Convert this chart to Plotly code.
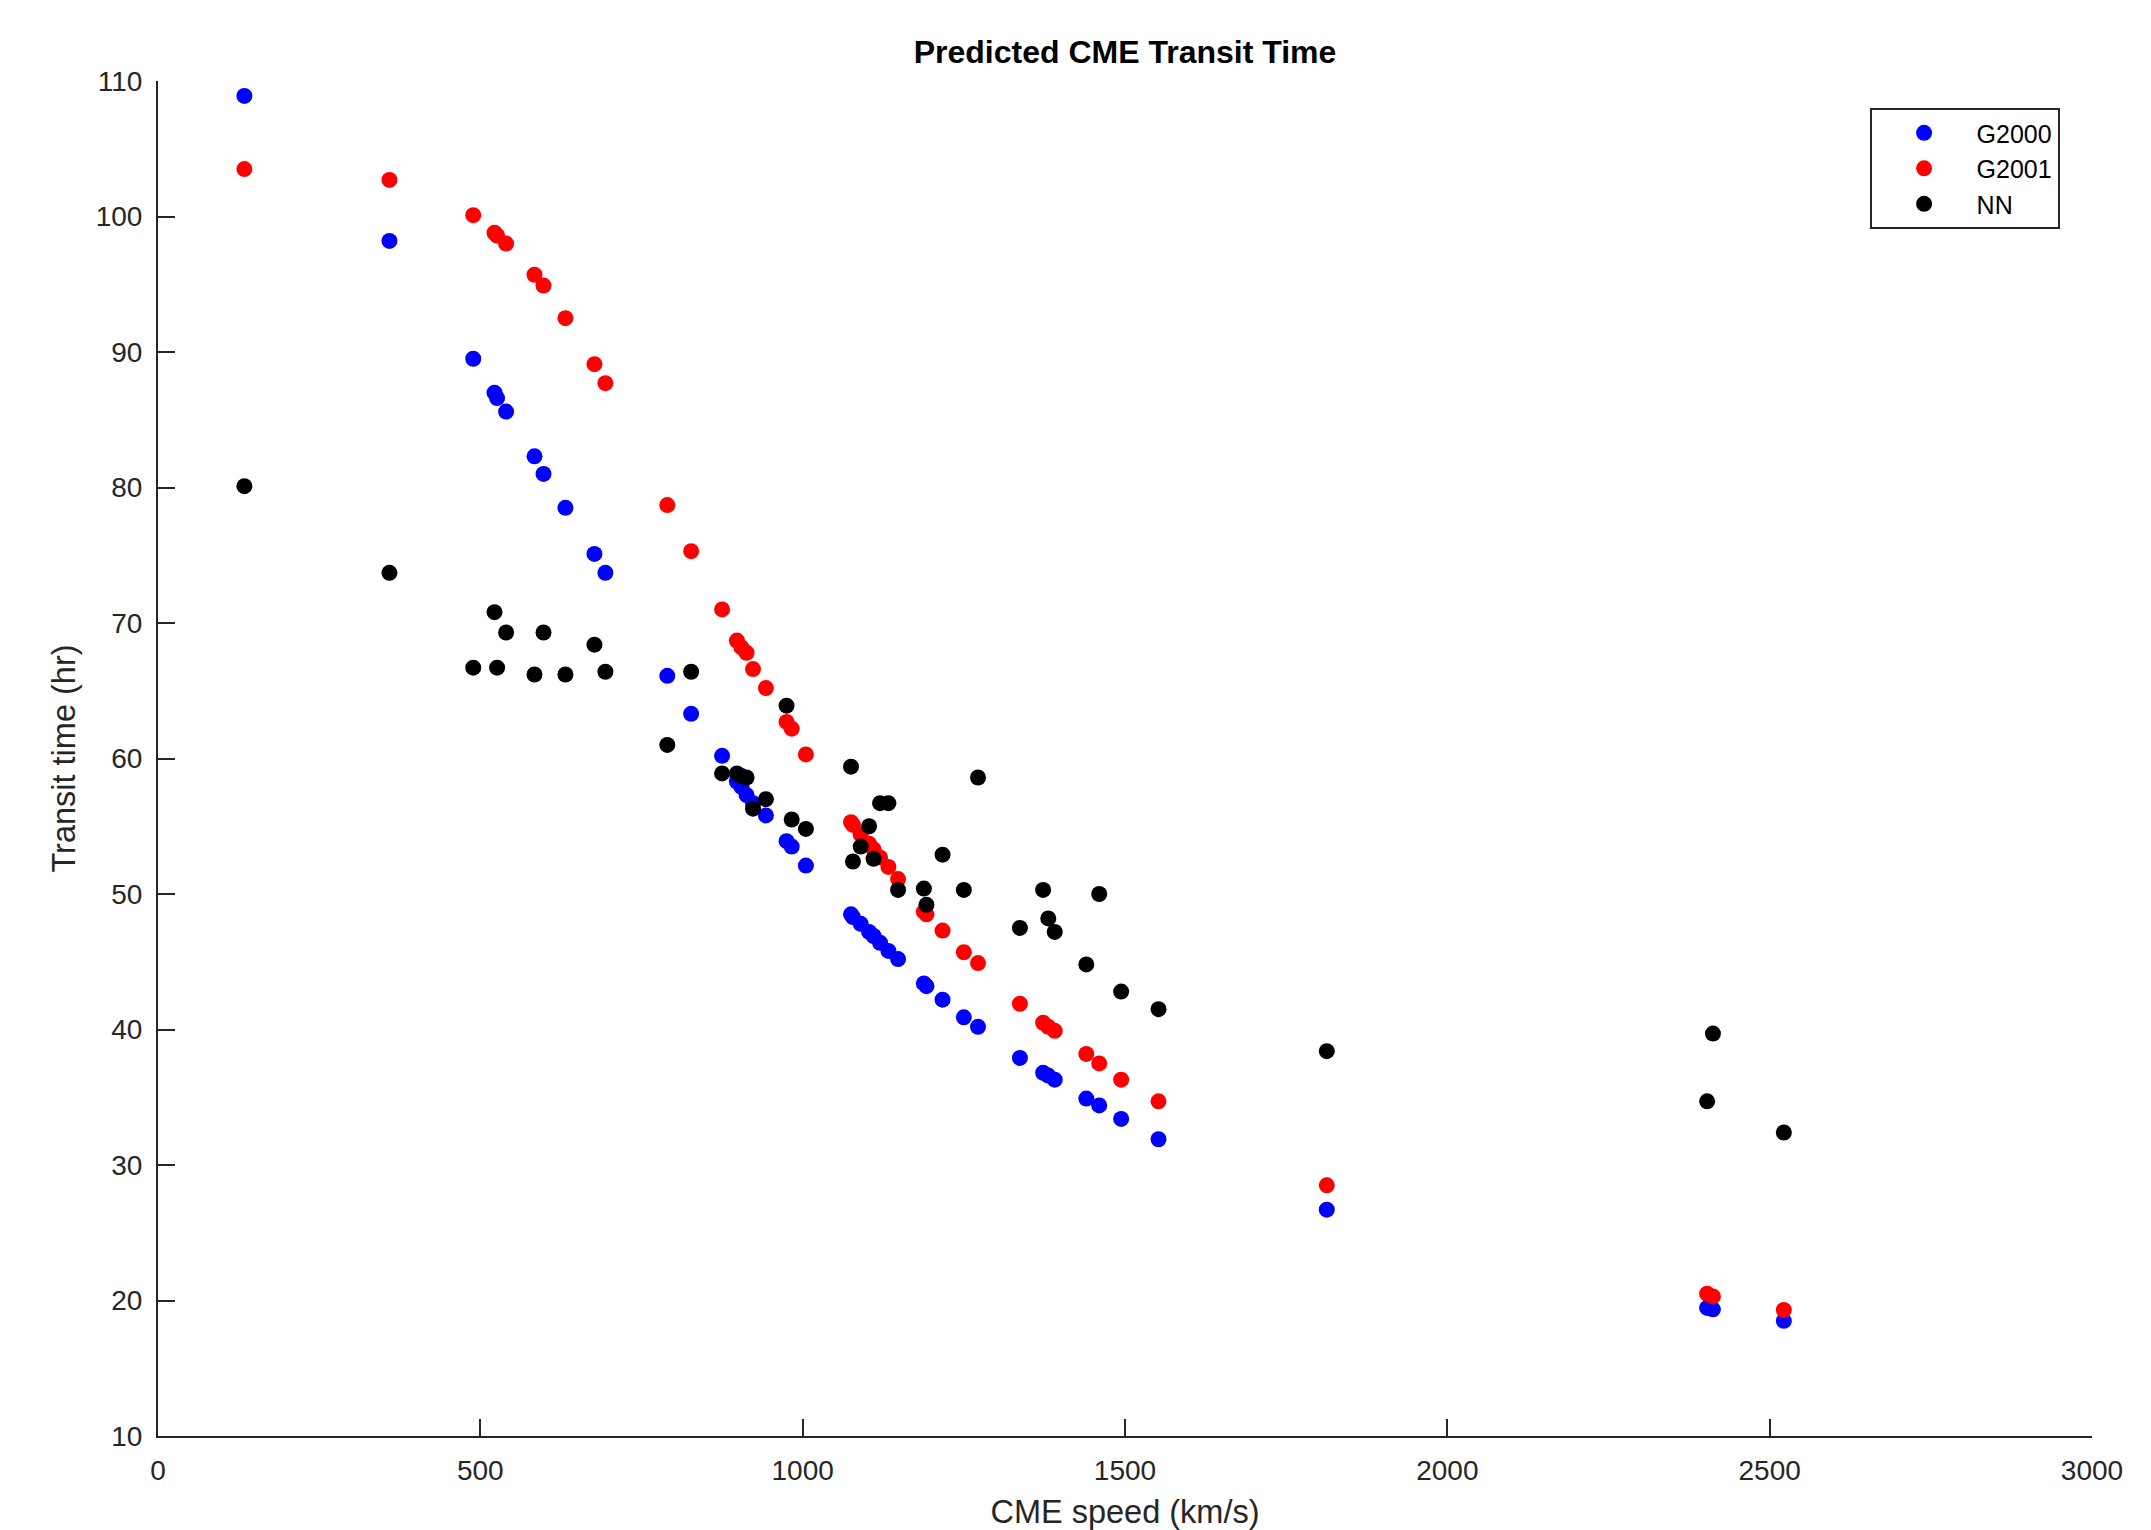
import plotly.graph_objects as go

# CME speed (km/s) for each event
speed = [134, 359, 489, 522, 526, 540, 584, 598, 632, 677,
         694, 790, 827, 875, 898, 905, 913, 923, 943, 975,
         983, 1005, 1075, 1078, 1090, 1103, 1110, 1120, 1133, 1148,
         1188, 1192, 1217, 1250, 1272, 1337, 1373, 1381, 1391, 1440,
         1460, 1494, 1552, 1813, 2403, 2412, 2522]

# Predicted transit times (hr)
g2000 = [108.9, 98.2, 89.5, 87.0, 86.6, 85.6, 82.3, 81.0, 78.5, 75.1,
         73.7, 66.1, 63.3, 60.2, 58.3, 57.9, 57.3, 56.7, 55.8, 53.9,
         53.5, 52.1, 48.5, 48.3, 47.8, 47.2, 46.9, 46.4, 45.8, 45.2,
         43.4, 43.2, 42.2, 40.9, 40.2, 37.9, 36.8, 36.6, 36.3, 34.9,
         34.4, 33.4, 31.9, 26.7, 19.45, 19.35, 18.5]

g2001 = [103.5, 102.7, 100.1, 98.8, 98.6, 98.0, 95.7, 94.9, 92.5, 89.1,
         87.7, 78.7, 75.3, 71.0, 68.7, 68.2, 67.8, 66.6, 65.2, 62.7,
         62.2, 60.3, 55.3, 55.1, 54.4, 53.7, 53.3, 52.7, 52.0, 51.1,
         48.7, 48.5, 47.3, 45.7, 44.9, 41.9, 40.5, 40.2, 39.9, 38.2,
         37.5, 36.3, 34.7, 28.5, 20.5, 20.3, 19.3]

nn = [80.1, 73.7, 66.7, 70.8, 66.7, 69.3, 66.2, 69.3, 66.2, 68.4,
      66.4, 61.0, 66.4, 58.9, 58.9, 58.7, 58.6, 56.3, 57.0, 63.9,
      55.5, 54.8, 59.4, 52.4, 53.5, 55.0, 52.6, 56.7, 56.7, 50.3,
      50.4, 49.2, 52.9, 50.3, 58.6, 47.5, 50.3, 48.2, 47.2, 44.8,
      50.0, 42.8, 41.5, 38.4, 34.7, 39.7, 32.4]

series_names = ["G2000", "G2001", "NN"]
series_values = [g2000, g2001, nn]
series_colors = ["#0000FF", "#FF0000", "#000000"]

x_ticks = [0, 500, 1000, 1500, 2000, 2500, 3000]
y_ticks = [10, 20, 30, 40, 50, 60, 70, 80, 90, 100, 110]

FONT = "Liberation Sans, Arial, Helvetica, sans-serif"
AXC = "#262626"

fig = go.Figure()
for name, vals, col in zip(series_names, series_values, series_colors):
    fig.add_trace(go.Scatter(
        x=speed, y=vals, mode="markers", name=name,
        marker=dict(color=col, size=16, symbol="circle", line=dict(width=0)),
    ))

axis_common = dict(
    showgrid=False, zeroline=False, showline=True, linecolor=AXC, linewidth=2,
    ticks="inside", ticklen=17, tickwidth=1.5, tickcolor=AXC,
    tickfont=dict(family=FONT, size=28, color=AXC),
    mirror=False,
)

# page body has an 8px margin; figure is sized so it fills the window exactly
fig.update_layout(
    width=2143, height=1522,
    margin=dict(l=150, r=59, t=73, b=94, autoexpand=False),
    paper_bgcolor="white", plot_bgcolor="white",
    title=dict(text="<b>Predicted CME Transit Time</b>", x=0.5, xref="paper",
               y=1 - 44 / 1522, yref="container", yanchor="middle", xanchor="center",
               font=dict(family=FONT, size=32, color="#000000")),
    xaxis=dict(range=[0, 3000], tickvals=x_ticks, ticktext=[str(v) for v in x_ticks],
               title=dict(text="CME speed (km/s)", standoff=16,
                          font=dict(family=FONT, size=32.5, color=AXC)),
               ticklabelstandoff=8, **axis_common),
    yaxis=dict(range=[10, 110], tickvals=y_ticks, ticktext=[str(v) for v in y_ticks],
               title=dict(text="Transit time (hr)", standoff=10,
                          font=dict(family=FONT, size=32.5, color=AXC)),
               ticklabelstandoff=8, **axis_common),
    legend=dict(x=0.885, y=0.980, xanchor="left", yanchor="top",
                bordercolor=AXC, borderwidth=2, bgcolor="white",
                font=dict(family=FONT, size=25, color="#000000"),
                itemwidth=95, tracegroupgap=4),
    showlegend=True,
)

fig.write_html("out.html")
